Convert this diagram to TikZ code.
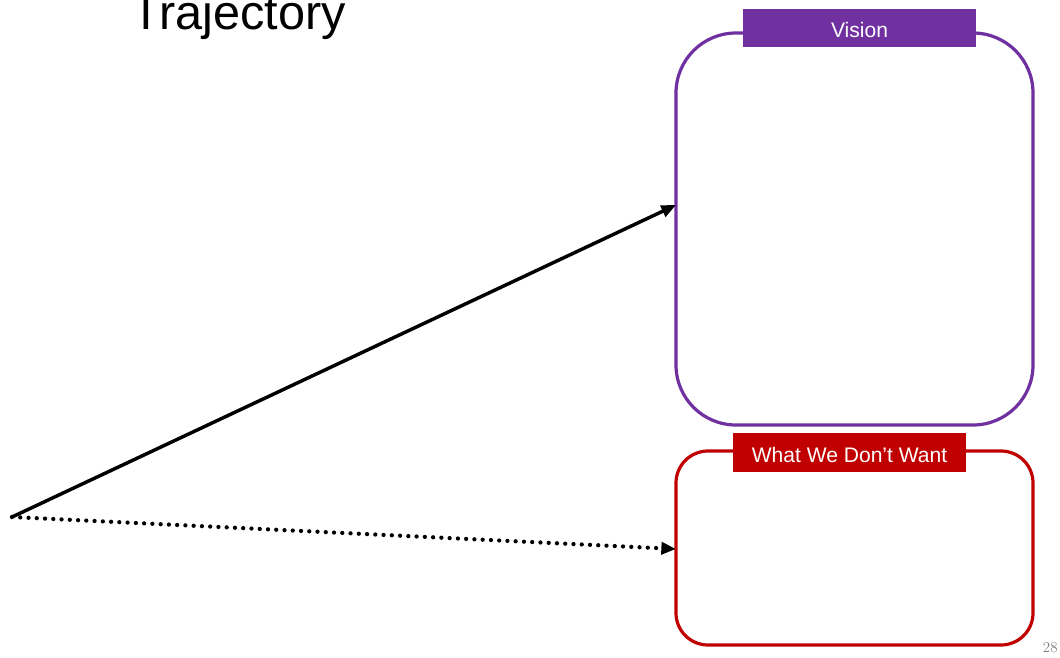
\documentclass[tikz,border=0pt]{standalone}
\usepackage{fontspec}
\setmainfont{Liberation Sans}
\newfontfamily\lmfont{Latin Modern Roman}
\usetikzlibrary{arrows.meta}
\definecolor{vpurple}{HTML}{7030A0}
\definecolor{dred}{HTML}{C00000}
\tikzset{
  frame/.style={draw, line width=2.4pt, rounded corners=#1},
  tag/.style={fill=#1, text=white, minimum width=175pt, minimum height=29pt, inner sep=0pt, font=\fontsize{15.8}{18}\selectfont},
  arr/.style={line width=2.6pt, -{Triangle[length=11pt,width=9pt]}},
  dotarr/.style={line width=3.2pt, line cap=round, dash pattern=on 0pt off 6.2pt, -{Triangle[length=11pt,width=9pt]}},
}
\begin{document}
\begin{tikzpicture}[x=0.75pt,y=-0.75pt]
\useasboundingbox (0,0) rectangle (1060,657);
\fill[white] (0,0) rectangle (1060,657);
\begin{scope}
\clip (0,0) rectangle (1060,657);
\node[anchor=base west, inner sep=0pt, font=\fontsize{36.5}{40}\selectfont] (title) at (131,29) {Trajectory};
\end{scope}
% boxes
\draw[frame=45pt, vpurple] (676,33) rectangle (1033,425);
\coordinate (vmid) at (676,205);
\node[tag=vpurple] (vtag) at (859.5,28) {};
\node[text=white, font=\fontsize{15.8}{18}\selectfont, inner sep=0pt] (vtxt) at (859.5,30) {Vision};
\draw[frame=24pt, dred] (676,451) rectangle (1033,645);
\coordinate (rmid) at (676,549);
\node[tag=dred] (rtag) at (849.5,452.5) {};
\node[text=white, font=\fontsize{15.8}{18}\selectfont, inner sep=0pt] (rtxt) at (849.5,454.5) {What We Don’t Want};
% arrows
\coordinate (start) at (12,517);
\draw[arr] (start) -- (vmid);
\draw[dotarr] (start) -- (rmid);
% page number
\node[anchor=base east, inner sep=0pt, text=gray, font=\lmfont\fontsize{11.3}{13}\selectfont] (pnum) at (1058,652) {28};
\end{tikzpicture}
\end{document}
